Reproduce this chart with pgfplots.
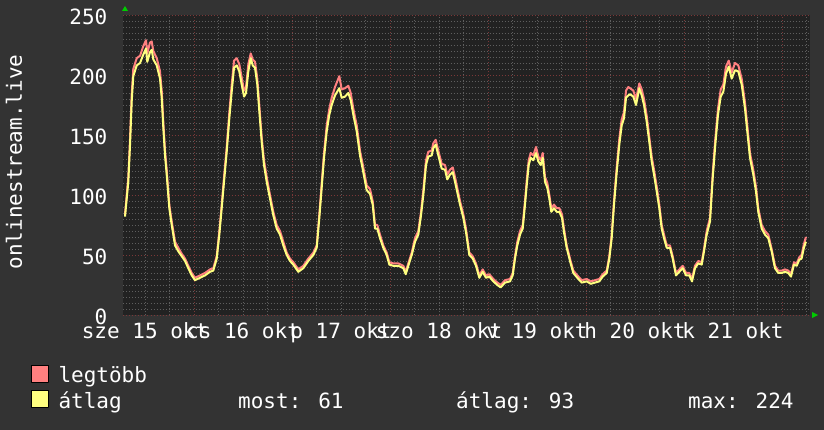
\documentclass[border=0pt]{standalone}
\usepackage{fontspec}
\setmainfont{DejaVu Sans Mono}
\usepackage{pgfplots}
\usepackage{pgfplotstable}
\pgfplotsset{compat=1.18}

\definecolor{bgout}{HTML}{333333}
\definecolor{bgplot}{HTML}{222222}
\definecolor{gridmin}{HTML}{5E5E5E}
\definecolor{gridmaj}{HTML}{7A3838}
\definecolor{maxred}{HTML}{FF8080}
\definecolor{avgyel}{HTML}{FFFF80}
\definecolor{arrowgreen}{HTML}{00CC00}

\newcommand{\rrdfont}{\fontsize{21}{25}\selectfont}

% hours since 15 okt 00:00, avg value
\pgfplotstableread{
h v
7.10 82
7.52 97
7.91 111
8.33 142
8.74 178
9.13 199
9.97 208
10.78 210
11.58 217
12.24 222
12.56 211
13.22 219
13.64 221
14.03 213
14.87 208
15.67 197
16.09 181
16.48 156
16.90 133
17.31 117
17.95 89
18.54 75
19.35 58
20.16 53
20.99 49
21.80 45
22.60 39
23.44 33
24.24 29
25.47 31
26.69 33
27.92 36
28.73 37
29.56 47
30.20 67
30.78 89
31.35 111
32.01 136
32.65 164
33.23 186
33.80 206
34.46 208
35.09 203
35.68 192
36.25 182
36.74 185
37.30 203
37.89 214
38.38 208
38.94 206
39.50 192
39.99 170
40.58 144
41.14 125
41.80 111
42.61 97
43.42 83
44.25 72
45.06 67
45.87 58
46.70 50
47.51 45
48.32 42
49.54 36
50.77 39
51.99 45
53.22 50
54.05 56
54.69 81
55.27 106
55.84 131
56.50 153
57.14 167
57.72 175
58.53 183
59.58 189
60.17 181
60.98 182
61.79 185
62.38 179
63.01 167
63.85 153
64.65 133
65.46 119
66.29 104
67.10 101
67.76 92
68.33 72
68.89 72
69.55 64
70.36 56
71.19 50
71.83 42
72.81 41
74.03 41
75.26 39
75.85 34
76.48 41
77.32 50
78.12 61
78.93 67
79.59 83
80.16 100
80.82 125
81.38 132
82.21 133
82.60 139
83.19 142
83.83 133
84.66 122
85.47 121
86.03 113
86.69 117
87.36 119
87.92 111
89.14 92
89.95 81
90.61 69
91.42 50
92.26 47
93.06 41
93.87 31
94.70 36
95.51 31
96.32 32
97.30 28
98.28 25
99.11 23
100.16 27
101.39 28
102.05 33
102.61 47
103.18 58
103.84 67
104.50 72
105.06 92
105.48 108
105.97 125
106.46 131
107.10 129
107.76 135
108.32 128
108.91 125
109.40 131
109.96 111
110.53 106
111.02 97
111.50 86
112.16 89
112.83 86
113.46 86
114.12 81
114.61 69
115.27 56
116.08 45
116.89 35
117.87 31
118.95 27
120.17 28
121.15 26
122.20 27
123.26 28
124.09 32
125.07 35
125.71 47
126.29 64
126.86 92
127.52 119
128.16 142
128.74 158
129.31 164
129.80 181
130.36 183
130.78 184
131.59 182
132.25 175
133.06 189
133.65 183
134.21 175
134.87 161
135.51 144
136.09 128
136.66 117
137.32 103
137.95 89
138.54 72
139.10 64
139.77 56
140.57 56
141.23 47
142.04 33
142.85 36
143.68 39
144.49 33
145.30 33
145.96 28
146.69 39
147.50 43
148.34 42
148.90 53
149.56 67
150.37 78
151.03 114
151.67 142
152.33 167
152.99 182
153.63 186
154.29 201
154.95 207
155.68 197
156.49 204
157.30 203
158.13 192
158.94 172
159.50 153
160.16 131
160.97 117
161.63 103
162.19 86
163.03 72
163.83 67
164.64 64
165.47 53
166.28 39
167.09 35
167.92 35
168.73 36
169.54 35
170.20 32
170.94 42
171.60 41
172.22 46
172.80 47
173.36 56
173.86 61
}\avgdata

% hours since 15 okt 00:00, max value
\pgfplotstableread{
h v
7.10 84
7.52 100
7.91 115
8.33 147
8.74 184
9.13 205
9.97 214
10.78 216
11.58 224
12.24 229
12.56 218
13.22 227
13.64 228
14.03 220
14.87 214
15.67 203
16.09 187
16.48 161
16.90 137
17.31 121
17.95 92
18.54 78
19.35 61
20.16 56
20.99 51
21.80 47
22.60 41
23.44 35
24.24 31
25.47 33
26.69 35
27.92 38
28.73 39
29.56 49
30.20 70
30.78 92
31.35 115
32.01 140
32.65 169
33.23 192
33.80 212
34.46 214
35.09 209
35.68 198
36.25 187
36.74 190
37.30 209
37.89 218
38.38 213
38.94 211
39.50 197
39.99 175
40.58 148
41.14 129
41.80 115
42.61 100
43.42 86
44.25 75
45.06 70
45.87 61
46.70 52
47.51 47
48.32 44
49.54 38
50.77 41
51.99 47
53.22 52
54.05 58
54.69 84
55.27 110
55.84 135
56.50 158
57.14 172
57.72 181
58.53 190
59.58 199
60.17 188
60.98 189
61.79 191
62.38 185
63.01 172
63.85 158
64.65 137
65.46 123
66.29 108
67.10 105
67.76 95
68.33 75
68.89 75
69.55 67
70.36 58
71.19 52
71.83 44
72.81 43
74.03 43
75.26 41
75.85 36
76.48 43
77.32 52
78.12 64
78.93 70
79.59 86
80.16 104
80.82 129
81.38 136
82.21 137
82.60 143
83.19 146
83.83 137
84.66 126
85.47 125
86.03 117
86.69 121
87.36 123
87.92 115
89.14 95
89.95 84
90.61 72
91.42 52
92.26 49
93.06 43
93.87 33
94.70 38
95.51 33
96.32 34
97.30 30
98.28 27
99.11 25
100.16 29
101.39 30
102.05 35
102.61 49
103.18 61
103.84 70
104.50 75
105.06 95
105.48 112
105.97 129
106.46 135
107.10 133
107.76 140
108.32 132
108.91 129
109.40 135
109.96 115
110.53 110
111.02 100
111.50 89
112.16 92
112.83 89
113.46 89
114.12 84
114.61 72
115.27 58
116.08 47
116.89 37
117.87 33
118.95 29
120.17 30
121.15 28
122.20 29
123.26 30
124.09 34
125.07 37
125.71 49
126.29 67
126.86 95
127.52 123
128.16 147
128.74 163
129.31 169
129.80 187
130.36 190
130.78 189
131.59 187
132.25 180
133.06 193
133.65 188
134.21 180
134.87 166
135.51 148
136.09 132
136.66 121
137.32 107
137.95 92
138.54 75
139.10 67
139.77 58
140.57 58
141.23 49
142.04 35
142.85 38
143.68 41
144.49 35
145.30 35
145.96 30
146.69 41
147.50 45
148.34 44
148.90 55
149.56 70
150.37 81
151.03 118
151.67 147
152.33 172
152.99 188
153.63 192
154.29 207
154.95 212
155.68 202
156.49 210
157.30 208
158.13 197
158.94 177
159.50 158
160.16 135
160.97 121
161.63 107
162.19 89
163.03 75
163.83 70
164.64 67
165.47 55
166.28 41
167.09 37
167.92 37
168.73 38
169.54 37
170.20 34
170.94 44
171.60 43
172.22 48
172.80 50
173.36 59
173.86 65
}\maxdata

\begin{document}
\begin{tikzpicture}[x=1pt,y=1pt]
\fill[bgout] (0,0) rectangle (824,430);
\useasboundingbox (0,0) rectangle (824,430);
\begin{axis}[
    at={(123.5pt,115pt)}, anchor=south west,
    scale only axis, width=686.5pt, height=300pt,
    xmin=6.73, xmax=174.86, ymin=0, ymax=250,
    axis background/.style={fill=bgplot},
    axis line style={draw=none},
    major tick length=0pt, minor tick length=0pt,
    /pgf/number format/assume math mode=true,
    tick label style={font=\rrdfont, text=white},
    xtick={12,36,60,84,108,132,156},
    xticklabels={sze 15 okt, cs 16 okt, p 17 okt, szo 18 okt, v 19 okt, h 20 okt, k 21 okt},
    xticklabel style={inner sep=0pt, yshift=-7pt},
    minor xtick={12,18,30,36,42,54,60,66,78,84,90,102,108,114,126,132,138,150,156,162,174},
    extra x ticks={24,48,72,96,120,144,168},
    extra x tick labels={},
    extra x tick style={grid=major},
    xmajorgrids=false, xminorgrids=true,
    ytick={0,50,100,150,200,250},
    minor y tick num=9,
    ymajorgrids=true, yminorgrids=true,
    yticklabel style={inner sep=0pt, xshift=-16pt, yshift=-2pt},
    minor grid style={color=gridmin, line width=0.8pt, dash pattern=on 1pt off 2pt},
    major grid style={color=gridmaj, line width=0.8pt, dash pattern=on 1pt off 2pt},
    ylabel={onlinestream.live},
    ylabel style={font=\rrdfont, text=white, at={(axis description cs:-0.1595,0.51)}, anchor=center},
    legend style={at={(axis description cs:-0.1347,-0.1667)}, anchor=north west,
        draw=none, fill=none, inner sep=0pt, row sep=6pt, column sep=9.5pt,
        nodes={inner sep=0pt, text=white, font=\rrdfont}},
    legend cell align=left,
    line join=round,
]
\addplot[maxred, line width=2pt,
    legend image code/.code={\draw[draw=black, fill=maxred, line width=0.8pt] (0pt,-7pt) rectangle (17pt,10pt);}]
    table[x=h, y=v] {\maxdata};
\addlegendentry{legtöbb}
\addplot[avgyel, line width=2pt,
    legend image code/.code={\draw[draw=black, fill=avgyel, line width=0.8pt] (0pt,-7pt) rectangle (17pt,10pt);}]
    table[x=h, y=v] {\avgdata};
\addlegendentry{átlag}
\end{axis}
\node[anchor=base west, inner sep=0pt, text=white, font=\rrdfont] at (238,21) {most: 61};
\node[anchor=base west, inner sep=0pt, text=white, font=\rrdfont] at (456,21) {átlag: 93};
\node[anchor=base west, inner sep=0pt, text=white, font=\rrdfont] at (688,21) {max: 224};
\fill[arrowgreen] (122,419) -- (128,419) -- (125,424) -- cycle;
\fill[arrowgreen] (812,118) -- (812,112) -- (818,115) -- cycle;
\end{tikzpicture}
\end{document}
